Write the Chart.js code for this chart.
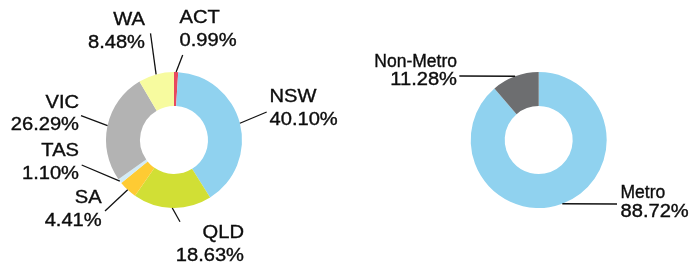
<!DOCTYPE html>
<html>
<head>
<meta charset="utf-8">
<script src="https://cdn.jsdelivr.net/npm/chart.js@4"></script>
<style>
  html, body { margin: 0; padding: 0; background: #fff; }
  #wrap { position: relative; width: 697px; height: 266px; }
  #wrap canvas { position: absolute; left: 0; top: 0; }
</style>
</head>
<body>
<div id="wrap">
  <canvas id="chartState" width="697" height="266"></canvas>
  <canvas id="chartArea" width="697" height="266"></canvas>
</div>
<script>
// ---- data ----
const stateLabels = ['ACT', 'NSW', 'QLD', 'SA', 'TAS', 'VIC', 'WA'];
const stateValues = [0.99, 40.10, 18.63, 4.41, 1.10, 26.29, 8.48];
const stateColors = ['#e8485f', '#90d2ef', '#d1df35', '#fecb33', '#d2ebf6', '#b3b3b3', '#f7fb9f'];

const areaLabels = ['Metro', 'Non-Metro'];
const areaValues = [88.72, 11.28];
const areaColors = ['#90d2ef', '#6d6e70'];

// label placement (offsets from the ring centre): line end, text anchor, alignment
const stateLabelLayout = [
  { line: [8.7, -85],    text: [5.5, -117],  align: 'left' },   // ACT
  { line: [92.7, -28],   text: [95.5, -38],  align: 'left' },   // NSW
  { line: [6, 81.7],     text: [70, 98.3],   align: 'right' },  // QLD
  { line: [-69, 71],     text: [-72.3, 63.3], align: 'right' }, // SA
  { line: [-92.3, 25],   text: [-95, 16],    align: 'right' },  // TAS
  { line: [-93, -24.3],  text: [-95, -32.3], align: 'right' },  // VIC
  { line: [-23.5, -106.7], text: [-29, -115], align: 'right' }  // WA
];
const areaLabelLayout = [
  { line: [78.3, 64],    text: [81.8, 58.3],  align: 'left' },  // Metro
  { line: [-79.4, -64],  text: [-81.7, -73.3], align: 'right' } // Non-Metro
];

const FONT_FAMILY = '"Liberation Sans", Arial, Helvetica, sans-serif';

function drawStretched(ctx, text, x, y, align, sx) {
    ctx.save();
    ctx.translate(x, y);
    ctx.scale(sx, 1);
    ctx.textAlign = align;
    ctx.textBaseline = 'alphabetic';
    ctx.fillText(text, 0, 0);
    ctx.strokeText(text, 0, 0); // slightly heavier glyphs, like the original
    ctx.restore();
}

// draws the leader lines and the two-line labels
const leaderLabels = {
    id: 'leaderLabels',
    afterDraw(chart, args, opts) {
        const ctx = chart.ctx;
        const meta = chart.getDatasetMeta(0);
        const values = chart.data.datasets[0].data;
        const layout = opts.layout;
        meta.data.forEach((arc, i) => {
            const p = arc.getProps(['x', 'y', 'startAngle', 'endAngle', 'outerRadius'], true);
            const mid = (p.startAngle + p.endAngle) / 2;
            const ex = p.x + Math.cos(mid) * p.outerRadius;
            const ey = p.y + Math.sin(mid) * p.outerRadius;
            const L = layout[i];

            ctx.save();
            ctx.strokeStyle = '#111';
            ctx.lineWidth = 1.3;
            ctx.beginPath();
            ctx.moveTo(ex, ey);
            ctx.lineTo(p.x + L.line[0], p.y + L.line[1]);
            ctx.stroke();

            ctx.fillStyle = '#0d0d0d';
            ctx.strokeStyle = '#0d0d0d';
            ctx.lineWidth = 0.35;
            const tx = p.x + L.text[0];
            const ty = p.y + L.text[1];
            ctx.font = opts.fontSize + 'px ' + FONT_FAMILY;
            drawStretched(ctx, chart.data.labels[i], tx, ty, L.align, opts.nameScale);
            drawStretched(ctx, values[i].toFixed(2) + '%', tx, ty + opts.lineHeight, L.align, opts.valueScale);
            ctx.restore();
        });
    }
};

function makeDoughnut(id, labels, values, colors, padding, labelOpts) {
    return new Chart(document.getElementById(id), {
        type: 'doughnut',
        data: {
            labels: labels,
            datasets: [{
                data: values,
                backgroundColor: colors,
                borderWidth: 0,
                hoverOffset: 0,
                offset: 0
            }]
        },
        options: {
            responsive: false,
            animation: false,
            cutout: '50%',
            events: [],
            layout: { padding: padding },
            plugins: {
                legend: { display: false },
                tooltip: { enabled: false },
                leaderLabels: labelOpts
            }
        },
        plugins: [leaderLabels]
    });
}

makeDoughnut('chartState', stateLabels, stateValues, stateColors,
    { left: 106, right: 455, top: 72, bottom: 58 },
    { layout: stateLabelLayout, fontSize: 17.5, lineHeight: 22.5, nameScale: 1.15, valueScale: 1.15 });

makeDoughnut('chartArea', areaLabels, areaValues, areaColors,
    { left: 470.7, right: 90.3, top: 72, bottom: 58 },
    { layout: areaLabelLayout, fontSize: 17.5, lineHeight: 18.5, nameScale: 1.0, valueScale: 1.15 });
</script>
</body>
</html>
